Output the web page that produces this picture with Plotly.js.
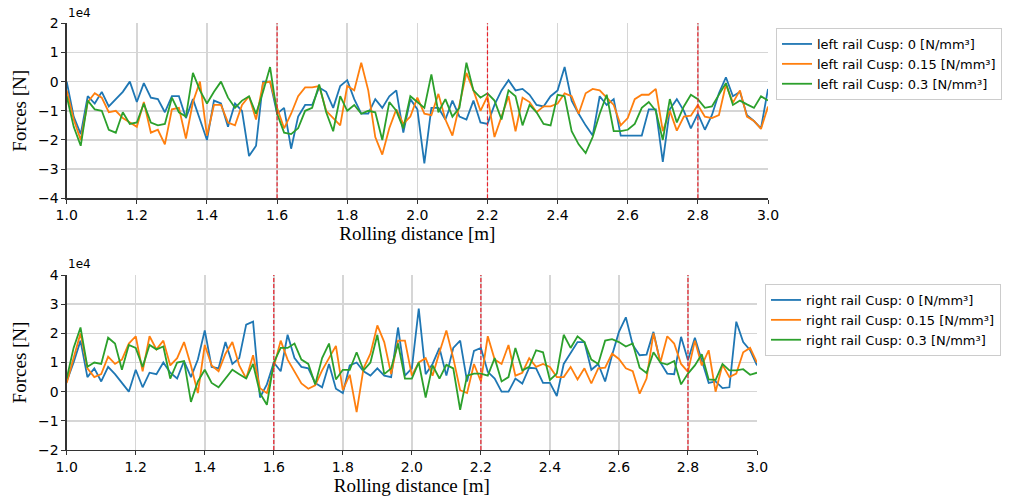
<!DOCTYPE html>
<html><head><meta charset="utf-8">
<script src="https://cdn.plot.ly/plotly-3.0.1.min.js"></script>
<style>html,body{margin:0;padding:0;background:#fff}#chart{width:1026px;height:501px}</style>
</head><body><div id="chart"></div>
<script>
// Rolling distance [m]
const distance = [1.00,1.02,1.04,1.06,1.08,1.10,1.12,1.14,1.16,1.18,1.20,1.22,1.24,1.26,1.28,1.30,1.32,1.34,1.36,1.38,1.40,1.42,1.44,1.46,1.48,1.50,1.52,1.54,1.56,1.58,1.60,1.62,1.64,1.66,1.68,1.70,1.72,1.74,1.76,1.78,1.80,1.82,1.84,1.86,1.88,1.90,1.92,1.94,1.96,1.98,2.00,2.02,2.04,2.06,2.08,2.10,2.12,2.14,2.16,2.18,2.20,2.22,2.24,2.26,2.28,2.30,2.32,2.34,2.36,2.38,2.40,2.42,2.44,2.46,2.48,2.50,2.52,2.54,2.56,2.58,2.60,2.62,2.64,2.66,2.68,2.70,2.72,2.74,2.76,2.78,2.80,2.82,2.84,2.86,2.88,2.90,2.92,2.94,2.96,2.98,3.00];

// Forces in units of 1e4 N
const leftCusp0 = [0,-1.2,-1.8,-0.5,-0.75,-0.35,-0.85,-0.6,-0.35,0,-0.7,-0.05,-0.55,-0.6,-1.05,-0.5,-0.5,-1.25,-0.6,-1.3,-2.0,-0.65,-0.75,-1.55,-0.75,-1.0,-2.55,-2.2,0,0,-1.1,-0.9,-2.3,-1.2,-0.8,-0.8,-0.2,-0.35,-0.9,-0.15,0.05,-0.6,-1.1,-1.1,-0.6,-0.9,-0.5,-0.3,-1.75,-0.6,-0.95,-2.8,-0.9,-0.9,-1.3,-0.65,-1.2,-1.3,-0.65,-1.4,-1.45,-0.8,-0.3,0.05,-0.3,-0.25,-0.45,-0.8,-0.85,-0.5,-0.3,0.5,-0.65,-1.1,-1.5,-1.85,-0.5,-0.8,-0.6,-1.85,-1.85,-1.85,-1.85,-0.95,-0.95,-2.75,-0.95,-0.6,-1.0,-1.6,-1.1,-1.65,-1.15,-0.4,0.15,-0.5,-0.35,-1.15,-1.35,-1.6,-0.25];
const leftCusp015 = [-0.3,-1.3,-2.0,-0.7,-0.4,-0.55,-1.05,-1.0,-1.25,-1.4,-1.55,-0.7,-1.75,-1.65,-2.15,-0.95,-0.9,-1.95,-0.7,0,-1.85,-0.8,-0.8,-1.4,-1.5,-0.8,-0.5,-1.3,-0.05,0,-0.9,-1.6,-1.1,-0.5,-0.2,-0.2,-0.15,-1.0,-1.25,-1.5,-0.15,-0.3,0.65,-0.3,-1.9,-2.5,-1.6,-0.95,-1.45,-1.2,-0.55,-1.1,-1.15,-0.42,-1.3,-1.85,-0.8,0.3,-0.3,-1.0,-0.5,-1.9,-1.2,-0.5,-1.7,-0.55,-0.7,-1.05,-0.85,-0.85,-0.75,-0.4,-0.5,-1.1,-0.4,-0.25,-0.3,-0.55,-0.8,-1.5,-1.25,-0.6,-0.45,-0.45,-0.25,-1.7,-1.0,-1.68,-1.2,-1.17,-0.8,-1.2,-1.25,-1.15,-0.1,-0.72,-0.3,-1.2,-1.35,-1.62,-0.85];
const leftCusp03 = [-0.5,-1.55,-2.2,-0.65,-0.95,-1.0,-1.65,-1.75,-1.05,-1.45,-1.4,-0.75,-1.4,-1.5,-1.45,-0.55,-1.05,-1.2,0.3,-0.3,-0.75,-0.35,0,-0.55,-0.9,-0.65,-0.5,-1.1,-0.35,0.5,-1.1,-1.75,-1.8,-1.6,-1.0,-0.9,-0.1,-1.05,-1.7,-0.5,-1.0,-0.8,-1.1,-1.0,-1.05,-2.0,-0.7,-1.0,-1.6,-0.5,-0.7,-0.9,0.25,-1.05,-0.6,-1.2,-0.9,0.65,-0.3,-0.55,-0.4,-0.65,-1.3,-0.3,-0.5,-1.5,-0.8,-1.05,-1.45,-1.5,-0.45,-0.5,-1.7,-2.15,-2.45,-1.9,-1.1,-0.45,-1.7,-1.7,-1.65,-1.45,-0.9,-0.7,-1.0,-2.0,-0.6,-1.4,-0.85,-0.45,-0.6,-0.9,-0.85,-0.45,-0.05,-0.8,-0.65,-0.78,-0.9,-0.5,-0.65];

const rightCusp0 = [0.35,1.0,1.75,0.5,0.8,0.35,0.85,0.6,0.3,0,0.75,0.15,0.65,0.6,1.0,0.65,0.45,1.05,0.5,1.1,2.1,0.85,0.8,1.7,0.95,1.15,2.3,2.4,-0.2,0.25,1.0,0.7,1.95,1.15,0.85,0.8,0.3,0.15,0.95,0.1,-0.05,0.9,1.0,0.7,0.55,0.8,0.55,0.5,2.2,0.55,0.8,2.85,0.6,0.95,1.5,0.55,1.5,1.75,0.35,1.4,1.5,0.68,0.45,0,0,0.45,0.28,0.82,0.8,0.3,0.3,-0.15,0.95,1.35,1.7,1.7,0.75,0.95,0.35,1.25,2.05,2.55,1.6,1.25,1.27,2.05,1.0,0.62,0.6,1.88,1.08,1.85,1.08,0.3,0.35,0.12,0.15,2.4,1.7,1.42,0.9];
const rightCusp015 = [0.3,1.2,2.0,0.8,0.5,0.6,1.2,0.95,1.1,1.65,1.9,0.7,1.9,1.45,1.75,0.9,1.15,1.7,0.9,-0.05,1.6,0.9,0.7,1.3,1.7,0.9,0.45,1.25,0.12,-0.05,0.9,1.75,1.1,0.7,0.28,0.1,0.22,0.73,1.15,1.57,0.05,0.58,-0.7,0.8,1.3,2.27,1.7,0.6,1.75,1.75,0.55,1.0,1.15,0.55,1.35,2.1,1.15,0.05,-0.05,0.95,0.35,1.9,1.1,0.95,1.6,0.55,0.65,1.15,0.85,0.95,0.85,0.5,0.5,0.85,0.42,0.8,0.28,0.8,0.82,1.3,1.12,0.8,0.7,-0.07,0.45,2.0,1.0,1.9,1.65,0.95,0.68,1.75,0.9,1.42,0.0,0.92,0.5,0.62,1.35,1.5,1.0];
const rightCusp03 = [0.45,1.5,2.2,0.85,1.0,0.95,1.85,1.65,0.75,1.6,1.5,0.85,1.6,1.45,1.55,0.45,1.0,1.05,-0.35,0.35,0.75,0.3,0.15,0.45,0.75,0.6,0.45,0.95,-0.05,-0.45,1.0,1.5,1.5,1.65,1.1,0.95,0.25,1.15,1.65,0.42,0.75,0.75,1.35,0.73,1.0,1.95,0.6,0.8,1.65,0.45,0.45,1.0,-0.2,0.9,0.45,0.92,0.8,-0.62,0.55,0.62,0.62,0.55,1.15,0.35,0.5,1.5,0.73,0.85,1.42,1.35,0.4,0.62,1.95,1.5,1.9,1.7,1.1,0.95,1.75,1.8,1.7,1.55,1.65,0.82,0.64,1.35,1.0,0.93,1.05,0.25,0.62,0.9,1.28,0.42,0.4,0.95,0.73,0.73,0.77,0.58,0.65];

const leftNames = ['left rail Cusp: 0 [N/mm³]','left rail Cusp: 0.15 [N/mm³]','left rail Cusp: 0.3 [N/mm³]'];
const rightNames = ['right rail Cusp: 0 [N/mm³]','right rail Cusp: 0.15 [N/mm³]','right rail Cusp: 0.3 [N/mm³]'];
const colors = ['#1f77b4','#ff7f0e','#2ca02c'];
const markerLines = [1.6, 2.2, 2.8];
const xTicks = [1.0,1.2,1.4,1.6,1.8,2.0,2.2,2.4,2.6,2.8,3.0];
const yTicksTop = [-4,-3,-2,-1,0,1,2];
const yTicksBottom = [-2,-1,0,1,2,3,4];
const exponentLabel = '1e4';

const W = 1026, H = 501;
const traces = [];
[leftCusp0, leftCusp015, leftCusp03].forEach((s,i)=>traces.push({
  x: distance, y: s, type:'scatter', mode:'lines', name:leftNames[i],
  line:{color:colors[i], width:1.8}, xaxis:'x', yaxis:'y', legend:'legend'}));
[rightCusp0, rightCusp015, rightCusp03].forEach((s,i)=>traces.push({
  x: distance, y: s, type:'scatter', mode:'lines', name:rightNames[i],
  line:{color:colors[i], width:1.8}, xaxis:'x2', yaxis:'y2', legend:'legend2'}));

const tickFont = {family:'DejaVu Sans, sans-serif', size:14, color:'#000'};
const titleFont = {family:'Liberation Serif, Times New Roman, serif', size:19, color:'#000'};
function xax(domain, anchor){
  return {domain:domain, anchor:anchor, range:[1.0,3.0], tickvals:xTicks, tickformat:'.1f',
    showgrid:true, gridcolor:'#d6d6d6', gridwidth:1.5, zeroline:false,
    showline:true, linecolor:'#333', linewidth:1.3, ticks:'outside', ticklen:4, tickcolor:'#333',
    tickfont:tickFont, title:{text:'Rolling distance [m]', font:titleFont, standoff:2}};
}
function yax(domain, anchor, range, tv){
  return {domain:domain, anchor:anchor, range:range, tickvals:tv,
    showgrid:true, gridcolor:'#d6d6d6', gridwidth:1.5, zeroline:false,
    showline:true, linecolor:'#333', linewidth:1.3, ticks:'outside', ticklen:4, tickcolor:'#333',
    tickfont:tickFont, title:{text:'Forces [N]', font:titleFont, standoff:6}};
}
const shapes = [];
markerLines.forEach(v=>{
  ['x','x2'].forEach((xr,k)=>shapes.push({type:'line', xref:xr, yref:(k===0?'y domain':'y2 domain'),
    x0:v, x1:v, y0:0, y1:1, line:{color:'#e8212a', width:1.2, dash:'4px,2px'}}));
});
const legendBase = {bgcolor:'rgba(255,255,255,0.9)', bordercolor:'#cccccc', borderwidth:1,
  font:{family:'DejaVu Sans, sans-serif', size:13, color:'#000'}, xanchor:'left', yanchor:'top',
  tracegroupgap:0, itemwidth:30};
const layout = {
  width:W, height:H, margin:{l:0,r:0,t:0,b:0}, paper_bgcolor:'#fff', plot_bgcolor:'#fff',
  xaxis: xax([66.7/W, 768/W], 'y'),
  yaxis: yax([(H-198.3)/H, (H-23.3)/H], 'x', [-4,2], yTicksTop),
  xaxis2: xax([66.7/W, 757/W], 'y2'),
  yaxis2: yax([(H-450)/H, (H-275)/H], 'x2', [-2,4], yTicksBottom),
  shapes: shapes,
  legend: Object.assign({x:776/W, y:(H-28)/H}, legendBase),
  legend2: Object.assign({x:765/W, y:(H-284)/H}, legendBase),
  annotations:[
    {xref:'paper', yref:'paper', x:66/W, y:(H-22)/H, xanchor:'left', yanchor:'bottom', showarrow:false,
     text:exponentLabel, font:{family:'DejaVu Sans, sans-serif', size:12, color:'#000'}},
    {xref:'paper', yref:'paper', x:66/W, y:(H-273)/H, xanchor:'left', yanchor:'bottom', showarrow:false,
     text:exponentLabel, font:{family:'DejaVu Sans, sans-serif', size:12, color:'#000'}}
  ],
  showlegend:true
};
Plotly.newPlot('chart', traces, layout, {displayModeBar:false, staticPlot:true});
</script></body></html>
